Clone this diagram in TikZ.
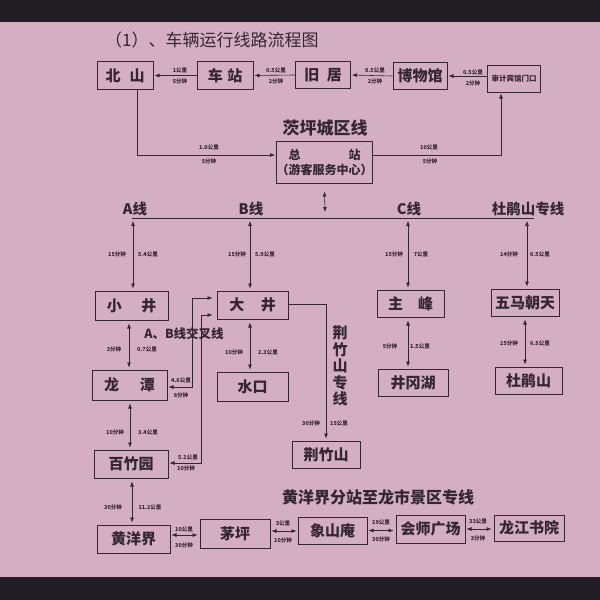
\documentclass[tikz,border=0pt]{standalone}
\usepackage{fontspec}
\setmainfont{Noto Sans CJK SC}
\usetikzlibrary{arrows.meta}
\definecolor{paper}{RGB}{212,174,195}
\definecolor{ink}{RGB}{50,40,50}
\definecolor{band}{RGB}{32,30,34}
\tikzset{
 bx/.style 2 args={draw=ink, line width=1pt, minimum width=#1pt, minimum height=#2pt, inner sep=0pt, text=ink, font=\bfseries\fontsize{15}{15}\selectfont},
 lbl/.style={text=ink, inner sep=0pt, font=\bfseries\fontsize{5.5}{6}\selectfont},
 hd/.style={text=ink, inner sep=0pt, font=\bfseries\fontsize{14.5}{14.5}\selectfont},
 ln/.style={draw=ink, line width=0.6pt},
 arr/.style={ln, -{Latex[length=5pt,width=4pt]}, shorten >=1pt},
 dbl/.style={ln, {Latex[length=5pt,width=4pt]}-{Latex[length=5pt,width=4pt]}},
 vd/.style={dbl, shorten <=3pt, shorten >=2pt},
}
\begin{document}
\begin{tikzpicture}[x=1pt,y=-1pt]
\fill[paper] (0,0) rectangle (600,600);
\fill[band] (0,0) rectangle (600,22);
\fill[band] (0,577) rectangle (600,600);
\useasboundingbox (0,0) rectangle (600,600);

% title
\node[text=ink, anchor=west, inner sep=0pt, font=\fontsize{17}{17}\selectfont] (title) at (105,40) {（1）、车辆运行线路流程图};

% top row
\node[bx={56}{28}] (beishan) at (125,75.5) {北\hspace{0.6em}山};
\node[bx={56}{28}] (chezhan) at (225,75.5) {车\hspace{0.3em}站};
\node[bx={55}{27}] (jiuju) at (323,75) {旧\hspace{0.5em}居};
\node[bx={54}{27}] (bowu) at (420,76) {博物馆};
\node[bx={53}{27}, font=\bfseries\fontsize{7.5}{8}\selectfont] (shenji) at (514,78.5) {审计宾馆门口};

\draw[arr] (chezhan.west) -- (beishan.east);
\node[lbl] (t1a) at (180,70) {1公里}; \node[lbl] (t1b) at (180,81) {5分钟};
\draw[arr] (jiuju.west) -- (chezhan.east);
\node[lbl] (t2a) at (276,70) {0.5公里}; \node[lbl] (t2b) at (276,81) {2分钟};
\draw[arr] (bowu.west) -- (jiuju.east);
\node[lbl] (t3a) at (375,70) {0.5公里}; \node[lbl] (t3b) at (375,81) {2分钟};
\draw[arr] (shenji.west |- bowu.east) -- (bowu.east);
\node[lbl] (t4a) at (473,72) {0.5公里}; \node[lbl] (t4b) at (473,83) {2分钟};

% hub
\node[hd, font=\bfseries\fontsize{17}{17}\selectfont] (chengqu) at (325,128) {茨坪城区线};
\node[bx={96}{42}, align=center, font=\bfseries\fontsize{12}{15}\selectfont] (zong) at (324.5,162) {总\hspace{4em}站\\（游客服务中心）};
\draw[arr] ([xshift=12pt]beishan.south) |- ([yshift=7pt]zong.west);
\node[lbl] (z1a) at (209,147) {1.0公里}; \node[lbl] (z1b) at (209,161) {5分钟};
\draw[arr] ([yshift=7pt]zong.east) -| ([xshift=-13pt]shenji.south);
\node[lbl] (z2a) at (429,147) {10公里}; \node[lbl] (z2b) at (430,161) {5分钟};

\coordinate (hubL) at (132,218);
\coordinate (hubR) at (534,218);
\coordinate (hub) at (325,218);
\draw[ln] (hubL) -- (hubR);
\draw[dbl] ([yshift=-8pt]zong.south) -- ([yshift=6pt]hub);

\node[hd] (aline) at (135,209) {A线};
\node[hd] (bline) at (251,209) {B线};
\node[hd] (cline) at (409,209) {C线};
\node[hd] (dline) at (528,209) {杜鹃山专线};

% second row boxes
\node[bx={73}{29}] (xiaojing) at (131.5,305.5) {小\hspace{1.3em}井};
\node[bx={71}{28}] (dajing) at (252.5,305) {大\hspace{1.1em}井};
\node[bx={67}{27}] (zhufeng) at (410.5,303.5) {主\hspace{1em}峰};
\node[bx={68}{27}] (wuma) at (525,302.5) {五马朝天};

\coordinate (ta) at (133,218);
\coordinate (tb) at (250,218);
\coordinate (tc) at (408,218);
\coordinate (td) at (527,218);
\draw[vd] (ta) -- (ta |- xiaojing.north);
\draw[vd] (tb) -- (tb |- dajing.north);
\draw[vd] (tc) -- (tc |- zhufeng.north);
\draw[vd] (td) -- (td |- wuma.north);
\node[lbl] (la1) at (117,254) {15分钟}; \node[lbl] (la2) at (148,254) {5.4公里};
\node[lbl] (lb1) at (237,254) {15分钟}; \node[lbl] (lb2) at (265,254) {5.9公里};
\node[lbl] (lc1) at (394,254) {15分钟}; \node[lbl] (lc2) at (421,254) {7公里};
\node[lbl] (ld1) at (509,254) {14分钟}; \node[lbl] (ld2) at (540,254) {6.5公里};

% third row
\node[bx={75}{30}] (longtan) at (129.5,385) {龙\hspace{1.4em}潭};
\node[bx={71}{29}] (shuikou) at (252.5,386.5) {水口};
\node[bx={70}{27}] (jinggang) at (413,382.5) {井冈湖};
\node[bx={67}{27}] (dujuan) at (528.5,380.5) {杜鹃山};

\draw[vd] ([xshift=-2.5pt]xiaojing.south) -- ([xshift=-2.5pt]xiaojing.south |- longtan.north);
\node[lbl] (m1a) at (114,349) {3分钟}; \node[lbl] (m1b) at (147,349) {0.7公里};
\draw[vd] ([xshift=-2.5pt]dajing.south) -- ([xshift=-2.5pt]dajing.south |- shuikou.north);
\node[lbl] (m2a) at (234,352) {10分钟}; \node[lbl] (m2b) at (268,352) {2.3公里};
\draw[vd] ([xshift=-2.5pt]zhufeng.south) -- ([xshift=-2.5pt]zhufeng.south |- jinggang.north);
\node[lbl] (m3a) at (390,346) {5分钟}; \node[lbl] (m3b) at (420,346) {1.5公里};
\draw[vd] (wuma.south) -- (wuma.south |- dujuan.north);
\node[lbl] (m4a) at (509,343) {25分钟}; \node[lbl] (m4b) at (540,343) {6.5公里};

\node[hd, font=\bfseries\fontsize{12.5}{12.5}\selectfont] (cross) at (184,334) {A、B线交叉线};

% cross lines
\node[bx={74}{28}] (baizhu) at (131,464) {百竹园};
\draw[dbl, shorten <=1pt, shorten >=4pt] ([yshift=-2pt]longtan.east) -- ++(25,0) |- ([yshift=7pt]dajing.west);
\node[lbl] (c1a) at (181,380) {4.6公里}; \node[lbl] (c1b) at (181,395) {8分钟};
\draw[dbl, shorten <=1pt, shorten >=4pt] ([yshift=1pt]baizhu.east) -- ++(33,0) |- ([yshift=-10pt]dajing.west);
\node[lbl] (c2a) at (188,457) {5.1公里}; \node[lbl] (c2b) at (186,468) {10分钟};

% jingzhushan line
\node[bx={68}{27}] (jingzhu) at (326,454.5) {荆竹山};
\draw[arr, shorten >=2pt] ([yshift=1pt]dajing.east) -| (jingzhu.north);
\node[hd, align=center, font=\bfseries\fontsize{15}{16.5}\selectfont] (jzlabel) at (340,366) {荆\\竹\\山\\专\\线};
\node[lbl] (j1) at (311,423) {30分钟}; \node[lbl] (j2) at (339,423) {15公里};

\draw[vd] ([xshift=0.5pt]longtan.south) -- ([xshift=0.5pt]longtan.south |- baizhu.north);
\node[lbl] (n1a) at (115,432) {10分钟}; \node[lbl] (n1b) at (148,432) {3.4公里};

% bottom row
\node[bx={73}{28}] (huangyang) at (133.5,539) {黄洋界};
\node[bx={70}{29}] (maoping) at (235,533.5) {茅坪};
\node[bx={69}{27}] (xiangshan) at (332.5,530.5) {象山庵};
\node[bx={69}{28}] (huishi) at (430.5,529) {会师广场};
\node[bx={70}{26}] (longjiang) at (529,528) {龙江书院};

\draw[vd] ([xshift=1pt]baizhu.south) -- ([xshift=1pt]baizhu.south |- huangyang.north);
\node[lbl] (n2a) at (113,507) {30分钟}; \node[lbl] (n2b) at (150,507) {11.2公里};

\node[hd, font=\bfseries\fontsize{16}{16}\selectfont] (yxline) at (378,497) {黄洋界分站至龙市景区专线};

\draw[dbl, shorten <=1pt, shorten >=2pt] ([yshift=4pt]huangyang.east) -- ([yshift=4pt]huangyang.east -| maoping.west);
\node[lbl] (b1a) at (184,529) {10公里}; \node[lbl] (b1b) at (184,545) {30分钟};
\draw[dbl, shorten <=1pt, shorten >=1pt] ([yshift=2.5pt]maoping.east) -- ([yshift=2.5pt]maoping.east -| xiangshan.west);
\node[lbl] (b2a) at (283,523) {3公里}; \node[lbl] (b2b) at (283,540) {10分钟};
\draw[dbl, shorten <=1pt, shorten >=2pt] (xiangshan.east) -- (xiangshan.east -| huishi.west);
\node[lbl] (b3a) at (381,522) {19公里}; \node[lbl] (b3b) at (381,539) {30分钟};
\draw[dbl, shorten <=1pt, shorten >=2pt] (huishi.east) -- (huishi.east -| longjiang.west);
\node[lbl] (b4a) at (478,521) {33公里}; \node[lbl] (b4b) at (478,538) {3分钟};
\end{tikzpicture}
\end{document}
